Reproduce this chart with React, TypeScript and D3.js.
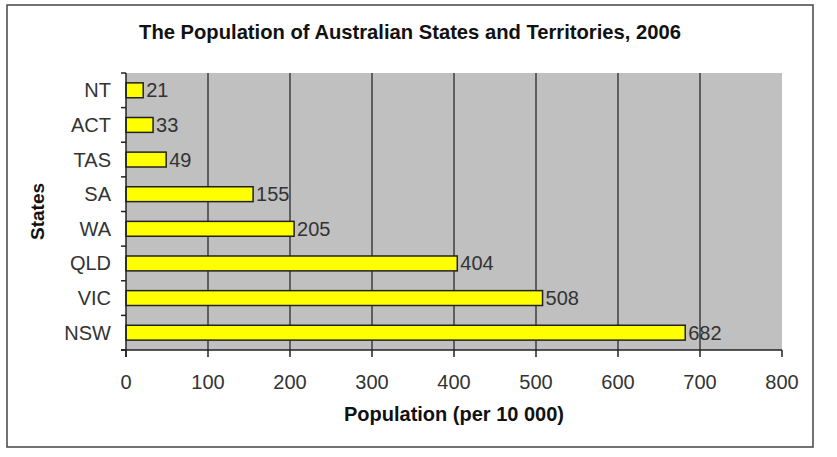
import * as d3 from "d3";

// Data
const states = ["NT", "ACT", "TAS", "SA", "WA", "QLD", "VIC", "NSW"];
const population = [21, 33, 49, 155, 205, 404, 508, 682];
const xTicks = [0, 100, 200, 300, 400, 500, 600, 700, 800];

const W = 837;
const H = 457;
const plot = { left: 126, right: 782, top: 73, bottom: 350 };
const FONT = "'Liberation Sans', Arial, sans-serif";

export default function App() {
  const x = d3.scaleLinear().domain([0, 800]).range([plot.left, plot.right]);
  const y = d3
    .scaleBand<string>()
    .domain(states)
    .range([plot.top, plot.bottom])
    .paddingInner(0.57)
    .paddingOuter(0.285);
  const step = y.step();
  const bounds = d3.range(states.length + 1).map((i) => plot.top + i * step);

  return (
    <svg
      width={W}
      height={H}
      viewBox={`0 0 ${W} ${H}`}
      style={{ position: "absolute", left: 0, top: 0, background: "#fff" }}
    >
      {/* outer frame */}
      <rect x={7} y={5} width={806} height={442} fill="#fff" stroke="#444" strokeWidth={1.5} />

      {/* title */}
      <text
        x={410}
        y={39}
        textAnchor="middle"
        fontFamily={FONT}
        fontWeight={700}
        fontSize={20.2}
        fill="#111"
      >
        The Population of Australian States and Territories, 2006
      </text>

      {/* plot area */}
      <rect
        x={plot.left}
        y={plot.top}
        width={plot.right - plot.left}
        height={plot.bottom - plot.top}
        fill="#c0c0c0"
      />

      {/* gridlines */}
      {xTicks.slice(1, -1).map((t) => (
        <line key={t} x1={x(t)} x2={x(t)} y1={plot.top} y2={plot.bottom} stroke="#2a2a2a" strokeWidth={1.3} />
      ))}

      {/* bars */}
      {states.map((s, i) => (
        <g key={s}>
          <rect
            x={x(0)}
            y={y(s)!}
            width={x(population[i]) - x(0)}
            height={y.bandwidth()}
            fill="#ffff00"
            stroke="#222"
            strokeWidth={1.5}
          />
          <text
            x={x(population[i]) + 3}
            y={y(s)! + y.bandwidth() / 2}
            dominantBaseline="central"
            fontFamily={FONT}
            fontSize={20}
            fill="#333"
          >
            {population[i]}
          </text>
          <text
            x={111}
            y={y(s)! + y.bandwidth() / 2}
            textAnchor="end"
            dominantBaseline="central"
            fontFamily={FONT}
            fontSize={20}
            fill="#333"
          >
            {s}
          </text>
        </g>
      ))}

      {/* y axis */}
      <line x1={plot.left} x2={plot.left} y1={plot.top} y2={plot.bottom + 7} stroke="#222" strokeWidth={1.5} />
      {bounds.map((b, i) => (
        <line key={i} x1={plot.left - 5} x2={plot.left} y1={b} y2={b} stroke="#222" strokeWidth={1.5} />
      ))}

      {/* x axis */}
      <line x1={plot.left - 5} x2={plot.right} y1={plot.bottom} y2={plot.bottom} stroke="#222" strokeWidth={1.5} />
      {xTicks.map((t) => (
        <g key={t}>
          <line x1={x(t)} x2={x(t)} y1={plot.bottom} y2={plot.bottom + 7} stroke="#222" strokeWidth={1.5} />
          <text
            x={x(t)}
            y={389}
            textAnchor="middle"
            fontFamily={FONT}
            fontSize={20}
            fill="#333"
          >
            {t}
          </text>
        </g>
      ))}

      {/* axis titles */}
      <text
        x={(plot.left + plot.right) / 2}
        y={421}
        textAnchor="middle"
        fontFamily={FONT}
        fontWeight={700}
        fontSize={20}
        fill="#111"
      >
        Population (per 10 000)
      </text>
      <text
        transform={`translate(44,${(plot.top + plot.bottom) / 2}) rotate(-90)`}
        textAnchor="middle"
        fontFamily={FONT}
        fontWeight={700}
        fontSize={19}
        fill="#111"
      >
        States
      </text>
    </svg>
  );
}
